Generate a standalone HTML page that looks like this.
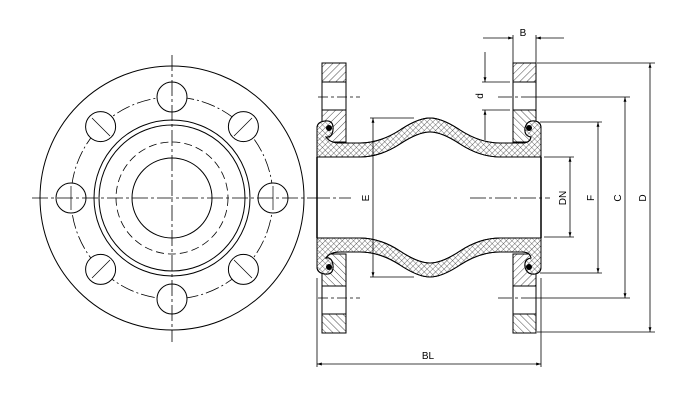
<!DOCTYPE html>
<html><head><meta charset="utf-8"><style>html,body{margin:0;padding:0;background:#fff}svg{display:block}</style></head><body>
<svg width="698" height="406" viewBox="0 0 698 406" xmlns="http://www.w3.org/2000/svg" font-family="Liberation Sans, sans-serif" font-size="10">
<defs>
<pattern id="h1" width="5" height="5" patternUnits="userSpaceOnUse" patternTransform="rotate(45)"><line x1="0" y1="0" x2="0" y2="5" stroke="#000" stroke-width="0.7"/></pattern>
<pattern id="h2" width="5" height="5" patternUnits="userSpaceOnUse" patternTransform="rotate(-45)"><line x1="0" y1="0" x2="0" y2="5" stroke="#000" stroke-width="0.7"/></pattern>
<pattern id="x" width="4" height="4" patternUnits="userSpaceOnUse" patternTransform="rotate(45)"><path d="M0 0H4M0 0V4" stroke="#000" stroke-width="0.6" fill="none"/></pattern>
<marker id="a" viewBox="0 0 10 10" refX="10" refY="5" markerWidth="8" markerHeight="6" orient="auto-start-reverse"><path d="M0 2L10 5L0 8z" fill="#000"/></marker>
</defs>
<g fill="none" stroke="#000" stroke-width="1">
<circle cx="172" cy="198" r="132"/>
<circle cx="172" cy="198" r="101" stroke-dasharray="14 3 2 3" stroke-width="0.8"/>
<circle cx="172" cy="198" r="78"/>
<circle cx="172" cy="198" r="73"/>
<circle cx="172" cy="198" r="56" stroke-dasharray="8 4" stroke-width="0.8"/>
<circle cx="172" cy="198" r="40"/>
<g fill="#fff">
<circle cx="172" cy="97" r="15"/><circle cx="172" cy="299" r="15"/>
<circle cx="71" cy="198" r="15"/><circle cx="273" cy="198" r="15"/>
<circle cx="100.6" cy="126.6" r="15"/><circle cx="243.4" cy="126.6" r="15"/>
<circle cx="100.6" cy="269.4" r="15"/><circle cx="243.4" cy="269.4" r="15"/>
</g>
<g stroke-width="0.7">
<line x1="92" y1="118" x2="110" y2="136"/><line x1="234" y1="136" x2="252" y2="118"/>
<line x1="92" y1="278" x2="110" y2="260"/><line x1="234" y1="260" x2="252" y2="278"/>
<line x1="71" y1="186" x2="71" y2="210"/><line x1="273" y1="186" x2="273" y2="210"/>
</g>
<line x1="32" y1="198" x2="318" y2="198" stroke-dasharray="16 3 3 3" stroke-width="0.8"/>
<line x1="172" y1="55" x2="172" y2="342" stroke-dasharray="16 3 3 3" stroke-width="0.8"/>
<rect x="322" y="63" width="24" height="19" fill="url(#h1)"/>
<rect x="322" y="82" width="24" height="28"/>
<path d="M322 110H346V142H322Z" fill="url(#h1)"/>
<rect x="322" y="314" width="24" height="19" fill="url(#h2)"/>
<rect x="322" y="286" width="24" height="28"/>
<path d="M322 254H346V286H322Z" fill="url(#h2)"/>
<rect x="513" y="63" width="23" height="19" fill="url(#h1)"/>
<rect x="513" y="82" width="23" height="28"/>
<path d="M513 110H536V142H513Z" fill="url(#h2)"/>
<rect x="513" y="314" width="23" height="19" fill="url(#h2)"/>
<rect x="513" y="286" width="23" height="28"/>
<path d="M513 254H536V286H513Z" fill="url(#h1)"/>
<path id="top" d="M317 157V128Q317 122 325 121Q334 120 333 130Q332 138 326 137Q330 143 340 143H360Q380 143 400 130Q418 118 430 118Q442 118 460 130Q480 143 500 143H522Q530 143 531 137Q524 136 525 128Q527 120 535 121Q541 122 541 128V157H500Q480 157 460 144Q442 132 430 132Q418 132 400 144Q380 157 360 157Z" fill="#fff"/>
<path d="M317 157V128Q317 122 325 121Q334 120 333 130Q332 138 326 137Q330 143 340 143H360Q380 143 400 130Q418 118 430 118Q442 118 460 130Q480 143 500 143H522Q530 143 531 137Q524 136 525 128Q527 120 535 121Q541 122 541 128V157H500Q480 157 460 144Q442 132 430 132Q418 132 400 144Q380 157 360 157Z" fill="url(#x)"/>
<path d="M317 238V267Q317 273 325 274Q334 275 333 265Q332 257 326 258Q330 252 340 252H360Q380 252 400 265Q418 277 430 277Q442 277 460 265Q480 252 500 252H522Q530 252 531 258Q524 259 525 267Q527 275 535 274Q541 273 541 267V238H500Q480 238 460 251Q442 263 430 263Q418 263 400 251Q380 238 360 238Z" fill="#fff"/>
<path d="M317 238V267Q317 273 325 274Q334 275 333 265Q332 257 326 258Q330 252 340 252H360Q380 252 400 265Q418 277 430 277Q442 277 460 265Q480 252 500 252H522Q530 252 531 258Q524 259 525 267Q527 275 535 274Q541 273 541 267V238H500Q480 238 460 251Q442 263 430 263Q418 263 400 251Q380 238 360 238Z" fill="url(#x)"/>
<line x1="317" y1="157" x2="317" y2="238" stroke-width="1.5"/>
<line x1="541" y1="157" x2="541" y2="238" stroke-width="1.5"/>
</g>
<g fill="#000"><circle cx="329" cy="128" r="3"/><circle cx="529" cy="128" r="3"/><circle cx="329" cy="267" r="3"/><circle cx="529" cy="267" r="3"/></g>
<g fill="none" stroke="#000" stroke-width="0.8">
<line x1="318" y1="198" x2="352" y2="198" stroke-dasharray="12 3 3 3"/>
<line x1="470" y1="198" x2="550" y2="198" stroke-dasharray="16 3 3 3"/>
<line x1="318" y1="97" x2="360" y2="97" stroke-dasharray="10 3 3 3"/>
<line x1="318" y1="298" x2="360" y2="298" stroke-dasharray="10 3 3 3"/>
<line x1="498" y1="97" x2="630" y2="97" stroke-dasharray="14 3 3 3 200"/>
<line x1="498" y1="298" x2="630" y2="298" stroke-dasharray="14 3 3 3 200"/>
<line x1="370" y1="118" x2="414" y2="118"/>
<line x1="373" y1="118" x2="373" y2="277" marker-start="url(#a)" marker-end="url(#a)"/>
<line x1="370" y1="277" x2="414" y2="277"/>
<line x1="544" y1="157" x2="574" y2="157"/><line x1="544" y1="237" x2="574" y2="237"/>
<line x1="570" y1="157" x2="570" y2="237" marker-start="url(#a)" marker-end="url(#a)"/>
<line x1="540" y1="122" x2="602" y2="122"/><line x1="540" y1="273" x2="602" y2="273"/>
<line x1="598" y1="122" x2="598" y2="273" marker-start="url(#a)" marker-end="url(#a)"/>
<line x1="625" y1="97" x2="625" y2="298" marker-start="url(#a)" marker-end="url(#a)"/>
<line x1="537" y1="63" x2="655" y2="63"/><line x1="537" y1="332" x2="655" y2="332"/>
<line x1="650" y1="63" x2="650" y2="332" marker-start="url(#a)" marker-end="url(#a)"/>
<line x1="513" y1="35" x2="513" y2="63"/><line x1="536" y1="35" x2="536" y2="63"/>
<line x1="483" y1="38" x2="513" y2="38" marker-end="url(#a)"/>
<line x1="564" y1="38" x2="536" y2="38" marker-end="url(#a)"/>
<line x1="482" y1="82" x2="510" y2="82"/><line x1="482" y1="110" x2="510" y2="110"/>
<line x1="485" y1="52" x2="485" y2="82" marker-end="url(#a)"/>
<line x1="485" y1="140" x2="485" y2="110" marker-end="url(#a)"/>
<line x1="317" y1="278" x2="317" y2="367"/><line x1="541" y1="278" x2="541" y2="367"/>
<line x1="317" y1="364" x2="541" y2="364" marker-start="url(#a)" marker-end="url(#a)"/>
</g>
<g fill="#000">
<text x="523" y="36" text-anchor="middle">B</text>
<text x="428" y="359" text-anchor="middle">BL</text>
<text transform="translate(483,96) rotate(-90)" text-anchor="middle">d</text>
<text transform="translate(369,198) rotate(-90)" text-anchor="middle">E</text>
<text transform="translate(566,198) rotate(-90)" text-anchor="middle">DN</text>
<text transform="translate(594,198) rotate(-90)" text-anchor="middle">F</text>
<text transform="translate(621,198) rotate(-90)" text-anchor="middle">C</text>
<text transform="translate(646,198) rotate(-90)" text-anchor="middle">D</text>
</g>
</svg>
</body></html>
